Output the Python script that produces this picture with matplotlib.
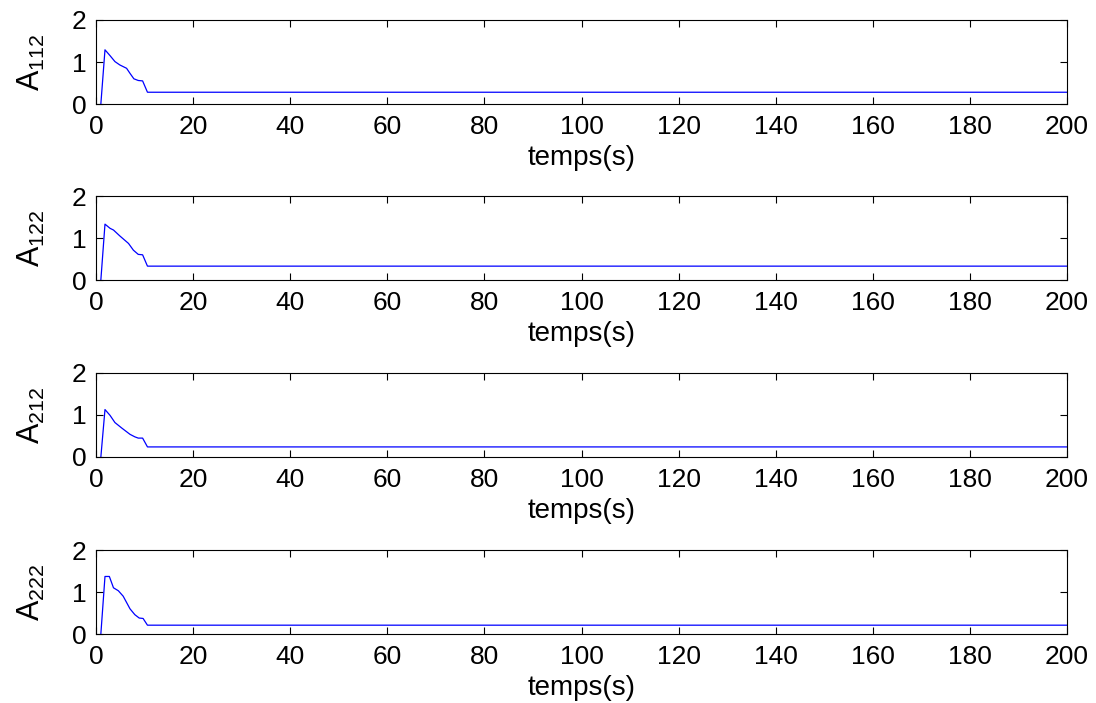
import matplotlib
matplotlib.use("Agg")
import matplotlib.pyplot as plt

plt.rcParams['font.family'] = ['Liberation Sans', 'DejaVu Sans']
plt.rcParams['mathtext.fontset'] = 'custom'
plt.rcParams['mathtext.rm'] = 'Liberation Sans'
plt.rcParams['mathtext.it'] = 'Liberation Sans'

# Time samples (s) and values for each signal (flat after ~10.6 s up to 200 s)
t_A112 = [1.0, 1.85, 2.9, 3.9, 4.9, 6.3, 7.0, 7.8, 8.7, 9.6, 10.6, 200]
A112 = [0.0, 1.29, 1.15, 1.01, 0.93, 0.85, 0.73, 0.60, 0.56, 0.55, 0.28, 0.28]

t_A122 = [1.0, 1.85, 2.9, 3.6, 4.9, 6.7, 7.7, 8.7, 9.6, 10.6, 200]
A122 = [0.0, 1.33, 1.23, 1.19, 1.05, 0.87, 0.71, 0.61, 0.60, 0.33, 0.33]

t_A212 = [1.0, 1.85, 2.9, 3.9, 5.3, 7.0, 8.0, 8.7, 9.6, 10.6, 200]
A212 = [0.0, 1.13, 0.99, 0.82, 0.69, 0.54, 0.48, 0.45, 0.45, 0.24, 0.24]

t_A222 = [1.0, 1.85, 2.75, 3.6, 4.6, 5.6, 7.0, 8.0, 8.9, 9.7, 10.6, 200]
A222 = [0.0, 1.37, 1.37, 1.10, 1.03, 0.90, 0.60, 0.46, 0.38, 0.37, 0.21, 0.21]

series = [
    (t_A112, A112, r'$\mathrm{A_{112}}$'),
    (t_A122, A122, r'$\mathrm{A_{122}}$'),
    (t_A212, A212, r'$\mathrm{A_{212}}$'),
    (t_A222, A222, r'$\mathrm{A_{222}}$'),
]

x_ticks = [0, 20, 40, 60, 80, 100, 120, 140, 160, 180, 200]
y_ticks = [0, 1, 2]
x_label = 'temps(s)'

W, H = 1096, 703
fig = plt.figure(figsize=(W / 100, H / 100), dpi=100)

tops = [20, 196, 373, 550]
left_px, right_px, h_px = 96, 1067, 84

for (t, y, lab), top in zip(series, tops):
    ax = fig.add_axes([left_px / W, 1 - (top + h_px) / H,
                       (right_px - left_px) / W, h_px / H])
    ax.plot(t, y, color='#0000ff', linewidth=0.9)
    ax.set_xlim(0, 200)
    ax.set_ylim(0, 2)
    ax.set_xticks(x_ticks)
    ax.set_yticks(y_ticks)
    ax.tick_params(direction='in', length=5, width=0.8, top=True, right=True,
                   labelsize=19, colors='black')
    ax.tick_params(axis='x', pad=8)
    ax.tick_params(axis='y', pad=7)
    for s in ax.spines.values():
        s.set_linewidth(0.8)
    ax.set_xlabel(x_label, fontsize=20, labelpad=4)
    ax.set_ylabel(lab, fontsize=22, labelpad=18)

fig.savefig('out.png', dpi=100)
